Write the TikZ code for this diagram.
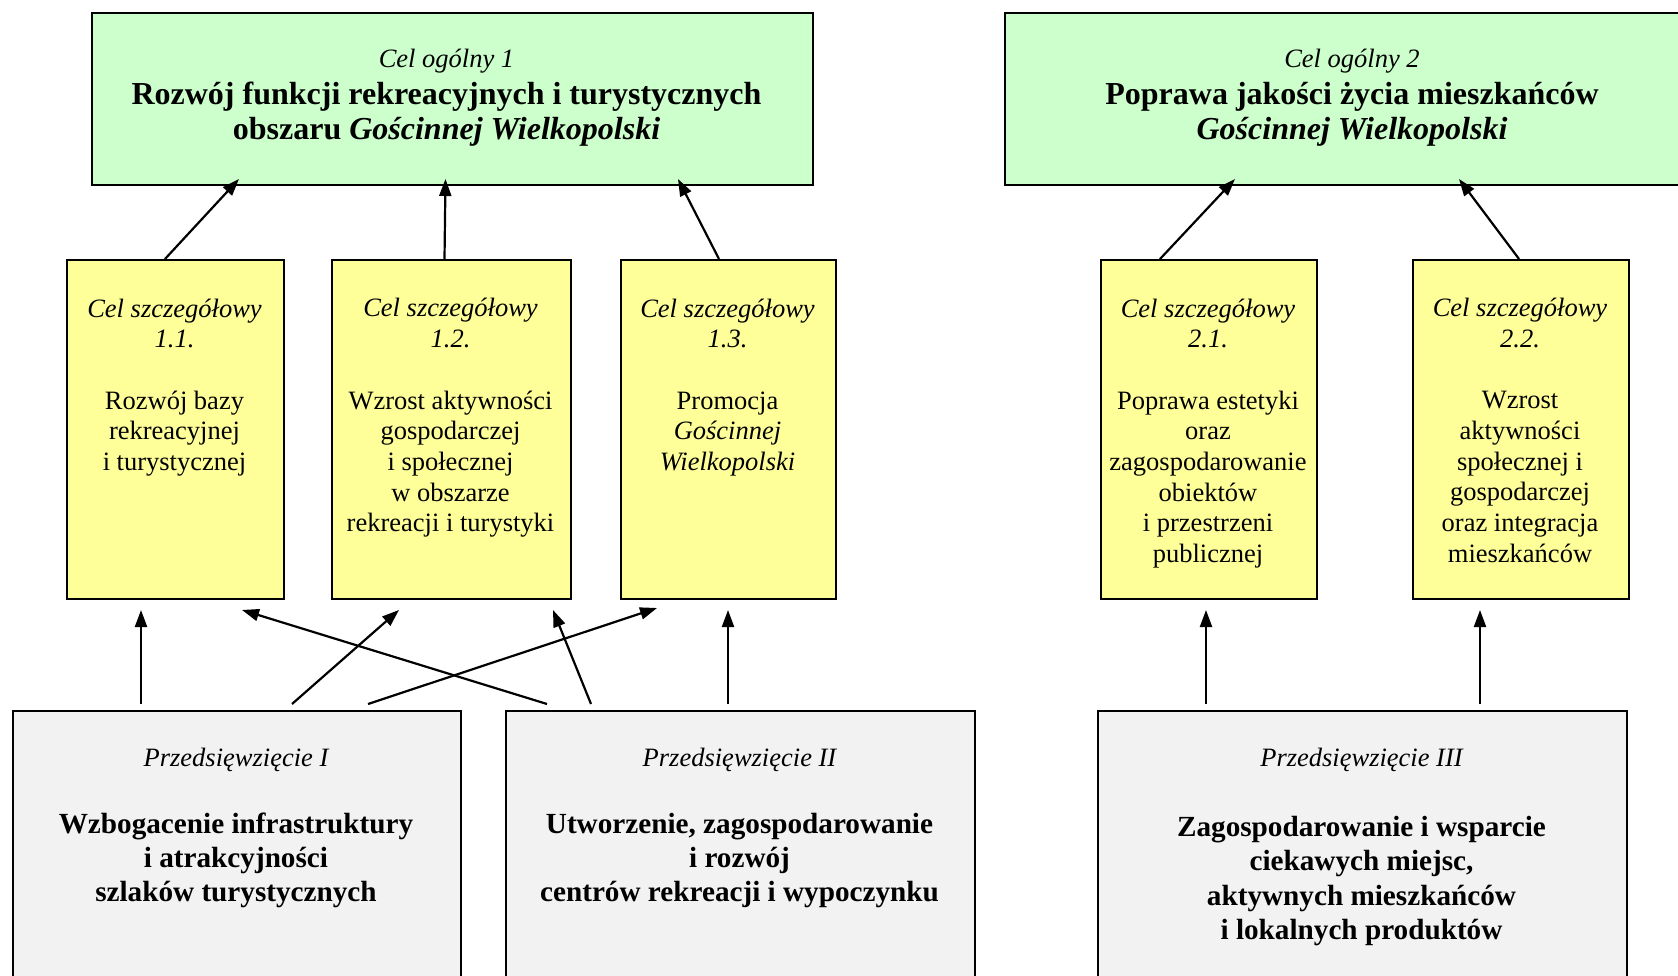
\documentclass[tikz,border=0pt]{standalone}
\usepackage{fontspec}
\setmainfont{Liberation Serif}
\usetikzlibrary{arrows.meta}
\definecolor{cgreen}{HTML}{CCFFCC}
\definecolor{cyellow}{HTML}{FFFF99}
\definecolor{cgray}{HTML}{F2F2F2}
\tikzset{
  box/.style={draw=black, line width=2pt, inner sep=0pt, anchor=north west},
  gbox/.style={box, fill=cgreen, minimum height=172pt},
  ybox/.style={box, fill=cyellow, minimum width=217pt, minimum height=339pt},
  pbox/.style={box, fill=cgray, minimum height=310pt},
  itl/.style={inner sep=0pt, font=\fontsize{26.5}{30.7}\selectfont\itshape},
  hd/.style={inner sep=0pt, align=center, font=\fontsize{32}{35}\selectfont\bfseries},
  ytxt/.style={inner sep=0pt, align=center, font=\fontsize{26.5}{30.7}\selectfont},
  ptxt/.style={inner sep=0pt, align=center, font=\fontsize{29.2}{34.3}\selectfont\bfseries},
  arr/.style={-{Triangle[length=17pt,width=12pt]}, line width=2.2pt}
}
\begin{document}
\begin{tikzpicture}[x=1pt,y=-1pt]
\useasboundingbox (0,0) rectangle (1678,976);
\clip (0,0) rectangle (1678,976);
% general goals
\node[gbox, minimum width=721pt] (c1) at (91,12) {};
\node[gbox, minimum width=696pt] (c2) at (1004,12) {};
\node[itl] (c1a) at (446.5,61) {Cel ogólny 1};
\node[hd] (c1b) at (446.5,114.5) {Rozwój funkcji rekreacyjnych i turystycznych\\obszaru \textit{Gościnnej Wielkopolski}};
\node[itl] (c2a) at (1352,61) {Cel ogólny 2};
\node[hd] (c2b) at (1352,114.5) {Poprawa jakości życia mieszkańców\\\textit{Gościnnej Wielkopolski}};
% specific goals
\node[ybox, minimum width=217pt] (y1) at (66,259) {};
\node[ybox, minimum width=239pt] (y2) at (331,259) {};
\node[ybox, minimum width=215pt] (y3) at (620,259) {};
\node[ybox, minimum width=216pt] (y4) at (1100,259) {};
\node[ybox, minimum width=216pt] (y5) at (1412,259) {};
\node[ytxt] (y1t) at (174.5,387.5) {\textit{Cel szczegółowy}\\\textit{1.1.}\\[30.7pt]Rozwój bazy\\rekreacyjnej\\i turystycznej};
\node[ytxt] (y2t) at (450.5,418) {\textit{Cel szczegółowy}\\\textit{1.2.}\\[30.7pt]Wzrost aktywności\\gospodarczej\\i społecznej\\w obszarze\\rekreacji i turystyki};
\node[ytxt] (y3t) at (727.5,387.5) {\textit{Cel szczegółowy}\\\textit{1.3.}\\[30.7pt]Promocja\\\textit{Gościnnej}\\\textit{Wielkopolski}};
\node[ytxt] (y4t) at (1208,433.5) {\textit{Cel szczegółowy}\\\textit{2.1.}\\[30.7pt]Poprawa estetyki\\oraz\\zagospodarowanie\\obiektów\\i przestrzeni\\publicznej};
\node[ytxt] (y5t) at (1520,430.5) {\textit{Cel szczegółowy}\\\textit{2.2.}\\[30.7pt]Wzrost\\aktywności\\społecznej i\\gospodarczej\\oraz integracja\\mieszkańców};
% projects
\node[pbox, minimum width=448pt] (g1) at (12,710) {};
\node[pbox, minimum width=469pt] (g2) at (505,710) {};
\node[pbox, minimum width=529pt] (g3) at (1097,710) {};
\node[itl] (g1a) at (236,760) {Przedsięwzięcie I};
\node[ptxt] (g1b) at (236,860.5) {Wzbogacenie infrastruktury\\i atrakcyjności\\szlaków turystycznych};
\node[itl] (g2a) at (739.5,760) {Przedsięwzięcie II};
\node[ptxt] (g2b) at (739.5,860.5) {Utworzenie, zagospodarowanie\\i rozwój\\centrów rekreacji i wypoczynku};
\node[itl] (g3a) at (1361.5,760) {Przedsięwzięcie III};
\node[ptxt] (g3b) at (1361.5,881) {Zagospodarowanie i wsparcie\\ciekawych miejsc,\\aktywnych mieszkańców\\i lokalnych produktów};
% arrows specific -> general
\draw[arr] ([xshift=-10.5pt]y1.north) -- ([xshift=-213.5pt,yshift=7pt]c1.south);
\draw[arr] ([xshift=-7pt]y2.north) -- ([xshift=-7pt,yshift=7pt]c1.south);
\draw[arr] ([xshift=-9.5pt]y3.north) -- ([xshift=225.5pt,yshift=7pt]c1.south);
\draw[arr] ([xshift=-49pt]y4.north) -- ([xshift=-118pt,yshift=7pt]c2.south);
\draw[arr] ([xshift=-2pt]y5.north) -- ([xshift=106pt,yshift=7pt]c2.south);
% arrows projects -> specific
\draw[arr] ([xshift=-96pt,yshift=6pt]g1.north) -- ([xshift=-34.5pt,yshift=-10pt]y1.south);
\draw[arr] ([xshift=55pt,yshift=6pt]g1.north) -- ([xshift=-52.5pt,yshift=-10pt]y2.south);
\draw[arr] ([xshift=131pt,yshift=6pt]g1.north) -- ([xshift=-71.5pt,yshift=-8pt]y3.south);
\draw[arr] ([xshift=-193.5pt,yshift=6pt]g2.north) -- ([xshift=66.5pt,yshift=-10pt]y1.south);
\draw[arr] ([xshift=-149.5pt,yshift=6pt]g2.north) -- ([xshift=101.5pt,yshift=-10pt]y2.south);
\draw[arr] ([xshift=-12.5pt,yshift=6pt]g2.north) -- ([xshift=-0.5pt,yshift=-10pt]y3.south);
\draw[arr] ([xshift=-156.5pt,yshift=6pt]g3.north) -- ([xshift=-3pt,yshift=-10pt]y4.south);
\draw[arr] ([xshift=117.5pt,yshift=6pt]g3.north) -- ([xshift=-41pt,yshift=-10pt]y5.south);
\end{tikzpicture}
\end{document}
